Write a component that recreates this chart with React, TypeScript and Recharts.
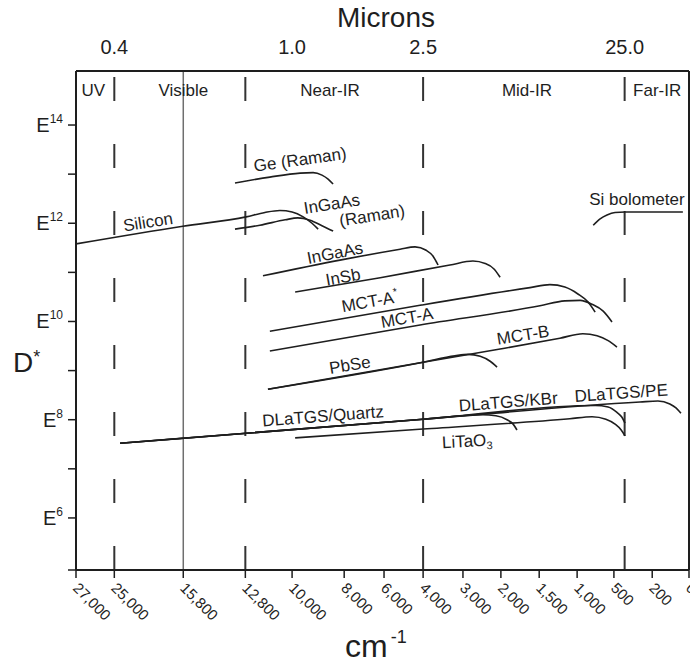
import React from "react";
import { LineChart, Line, XAxis, YAxis, ReferenceLine, ReferenceDot } from "recharts";

const FONT = '"Liberation Sans", Arial, Helvetica, sans-serif';
const INK = "#1e1e1e";

// bottom axis: wavenumber labels and where each one sits along the printed (non-linear) axis
const wavenumberLabels = [
  "27,000", "25,000", "15,800", "12,800", "10,000", "8,000", "6,000", "4,000",
  "3,000", "2,000", "1,500", "1,000", "500", "200", "0",
];
const wavenumberPos = [0, 1, 2.8, 4.42, 5.64, 7.0, 8.04, 9.06, 10.1, 11.09, 12.09, 13.08, 14.04, 15.04, 16];

// top axis (microns)
const micronLabels = ["0.4", "1.0", "2.5", "25.0"];
const micronPos = [1, 5.64, 9.06, 14.32];

// log10(D*) ticks
const decadeTicks = [4.94, 6, 7, 8, 9, 10, 11, 12, 13, 14];

const regionNames = ["UV", "Visible", "Near-IR", "Mid-IR", "Far-IR"];
const regionLabelPos = [0.45, 2.8, 6.63, 11.77, 15.17];
const regionBounds = [1, 4.42, 9.06, 14.32];
const visibleLinePos = 2.8;

// detector curves: x = axis position, d = log10(D*)
const silicon = [
  { x: 0, d: 11.58 }, { x: 2.79, d: 11.94 }, { x: 4.44, d: 12.13 }, { x: 4.93, d: 12.22 },
  { x: 5.32, d: 12.26 }, { x: 5.64, d: 12.23 }, { x: 5.93, d: 12.13 }, { x: 6.16, d: 12.0 }, { x: 6.32, d: 11.88 },
];
const geRaman = [
  { x: 4.15, d: 12.82 }, { x: 5.06, d: 12.94 }, { x: 5.85, d: 13.02 }, { x: 6.19, d: 13.03 },
  { x: 6.42, d: 12.98 }, { x: 6.58, d: 12.9 }, { x: 6.71, d: 12.8 },
];
const ingaasRaman = [
  { x: 4.15, d: 11.88 }, { x: 4.8, d: 11.96 }, { x: 5.46, d: 12.07 }, { x: 5.79, d: 12.11 },
  { x: 6.11, d: 12.06 }, { x: 6.42, d: 11.95 }, { x: 6.71, d: 11.84 },
];
const ingaas = [
  { x: 4.88, d: 10.93 }, { x: 6.89, d: 11.25 }, { x: 8.46, d: 11.47 }, { x: 8.85, d: 11.52 },
  { x: 9.14, d: 11.45 }, { x: 9.32, d: 11.33 }, { x: 9.45, d: 11.15 },
];
const insb = [
  { x: 5.72, d: 10.6 }, { x: 7.94, d: 10.89 }, { x: 9.76, d: 11.15 }, { x: 10.36, d: 11.23 },
  { x: 10.68, d: 11.18 }, { x: 10.91, d: 11.07 }, { x: 11.07, d: 10.9 },
];
const mctAStar = [
  { x: 5.06, d: 9.8 }, { x: 8.98, d: 10.33 }, { x: 11.85, d: 10.69 }, { x: 12.37, d: 10.75 },
  { x: 12.76, d: 10.7 }, { x: 13.1, d: 10.56 }, { x: 13.36, d: 10.4 }, { x: 13.55, d: 10.19 },
];
const mctA = [
  { x: 5.06, d: 9.4 }, { x: 8.98, d: 9.93 }, { x: 12.11, d: 10.32 }, { x: 12.76, d: 10.42 },
  { x: 13.16, d: 10.43 }, { x: 13.47, d: 10.35 }, { x: 13.76, d: 10.21 }, { x: 13.99, d: 9.99 },
];
const pbse = [
  { x: 5.01, d: 8.62 }, { x: 9.06, d: 9.17 }, { x: 9.89, d: 9.3 }, { x: 10.23, d: 9.33 },
  { x: 10.55, d: 9.29 }, { x: 10.81, d: 9.19 }, { x: 10.99, d: 9.07 },
];
const mctB = [
  { x: 5.01, d: 8.62 }, { x: 9.06, d: 9.17 }, { x: 11.07, d: 9.44 }, { x: 12.63, d: 9.66 },
  { x: 13.23, d: 9.75 }, { x: 13.6, d: 9.71 }, { x: 13.89, d: 9.61 }, { x: 14.12, d: 9.48 },
];
const dlatgsQuartz = [
  { x: 1.15, d: 7.52 }, { x: 9.06, d: 8.01 }, { x: 10.6, d: 8.1 }, { x: 10.96, d: 8.08 },
  { x: 11.25, d: 8.0 }, { x: 11.41, d: 7.91 }, { x: 11.51, d: 7.79 },
];
const dlatgsKBr = [
  { x: 1.15, d: 7.52 }, { x: 9.06, d: 8.01 }, { x: 13.55, d: 8.29 }, { x: 13.89, d: 8.26 },
  { x: 14.12, d: 8.15 }, { x: 14.25, d: 8.05 }, { x: 14.33, d: 7.93 },
];
const dlatgsPE = [
  { x: 1.15, d: 7.52 }, { x: 9.06, d: 8.01 }, { x: 14.72, d: 8.36 }, { x: 15.19, d: 8.38 },
  { x: 15.5, d: 8.32 }, { x: 15.66, d: 8.24 }, { x: 15.79, d: 8.13 },
];
const litao3 = [
  { x: 5.72, d: 7.63 }, { x: 9.06, d: 7.81 }, { x: 12.89, d: 8.02 }, { x: 13.47, d: 8.06 },
  { x: 13.83, d: 8.01 }, { x: 14.07, d: 7.91 }, { x: 14.23, d: 7.79 }, { x: 14.33, d: 7.67 },
];
const siBolometer = [
  { x: 13.5, d: 11.96 }, { x: 13.68, d: 12.09 }, { x: 13.86, d: 12.17 }, { x: 14.07, d: 12.22 },
  { x: 14.33, d: 12.23 }, { x: 15.84, d: 12.23 },
];

const curves = [
  silicon, geRaman, ingaasRaman, ingaas, insb, mctAStar, mctA, pbse, mctB,
  dlatgsQuartz, dlatgsKBr, dlatgsPE, litao3, siBolometer,
];

type CurveLabel = { text: string; x: number; d: number; rot: number; sup?: string; sub?: string };

const curveLabels: CurveLabel[] = [
  { text: "Ge (Raman)", x: 5.85, d: 13.29, rot: -8 },
  { text: "Silicon", x: 1.88, d: 12.02, rot: -9 },
  { text: "InGaAs", x: 6.68, d: 12.39, rot: -9 },
  { text: "(Raman)", x: 7.73, d: 12.15, rot: -9 },
  { text: "InGaAs", x: 6.76, d: 11.39, rot: -11 },
  { text: "InSb", x: 6.97, d: 10.9, rot: -10 },
  { text: "MCT-A", sup: "*", x: 7.67, d: 10.4, rot: -10 },
  { text: "MCT-A", x: 8.64, d: 10.07, rot: -10 },
  { text: "MCT-B", x: 11.67, d: 9.72, rot: -9 },
  { text: "PbSe", x: 7.15, d: 9.11, rot: -9 },
  { text: "DLaTGS/Quartz", x: 6.45, d: 8.07, rot: -4.5 },
  { text: "DLaTGS/KBr", x: 11.28, d: 8.36, rot: -4.5 },
  { text: "DLaTGS/PE", x: 14.23, d: 8.54, rot: -4 },
  { text: "LiTaO", sub: "3", x: 10.21, d: 7.56, rot: -3 },
  { text: "Si bolometer", x: 14.64, d: 12.49, rot: 0 },
];

const Y_MIN = 4.94;
const Y_MAX = 15.1;
const REGION_Y = 14.71;

// anchors the micron axis so it gets a domain (drawn with no stroke)
const micronAnchor = micronPos.map((x) => ({ x, d: Y_MIN }));

function labelShape(l: CurveLabel, size = 17) {
  return (p: any) => (
    <text
      x={p.cx}
      y={p.cy}
      transform={`rotate(${l.rot} ${p.cx} ${p.cy})`}
      textAnchor="middle"
      dominantBaseline="central"
      fontFamily={FONT}
      fontSize={size}
      fill={INK}
    >
      {l.text}
      {l.sup && (
        <tspan dy={-6} fontSize={11}>
          {l.sup}
        </tspan>
      )}
      {l.sub && (
        <tspan dy={5} fontSize={11}>
          {l.sub}
        </tspan>
      )}
    </text>
  );
}

function WavenumberTick(props: any) {
  const { x, y, payload, index } = props;
  let i = wavenumberPos.findIndex((v) => Math.abs(v - payload.value) < 1e-6);
  if (i < 0) i = index;
  const tx = x - 4;
  const ty = y + 9;
  return (
    <text
      x={tx}
      y={ty}
      transform={`rotate(45 ${tx} ${ty})`}
      textAnchor="start"
      fontFamily={FONT}
      fontSize={15}
      fill={INK}
    >
      {wavenumberLabels[i]}
    </text>
  );
}

function MicronTick(props: any) {
  const { x, payload, index } = props;
  let i = micronPos.findIndex((v) => Math.abs(v - payload.value) < 1e-6);
  if (i < 0) i = index;
  return (
    <text x={x} y={54} textAnchor="middle" fontFamily={FONT} fontSize={20} fill={INK}>
      {micronLabels[i]}
    </text>
  );
}

function DecadeTick(props: any) {
  const { x, y, payload } = props;
  const v = Math.round(payload.value * 100) / 100;
  if (v % 2 !== 0) return <g />;
  return (
    <text x={x - 3} y={y + 7} textAnchor="end" fontFamily={FONT} fontSize={20} fill={INK}>
      E
      <tspan dy={-9} fontSize={12}>
        {v}
      </tspan>
    </text>
  );
}

export default function App() {
  return (
    <div style={{ position: "absolute", left: 0, top: 0, width: 690, height: 664, background: "#fff" }}>
      <LineChart width={690} height={664} margin={{ top: 0, right: 1, bottom: 0, left: 0 }}>
        <XAxis
          type="number"
          dataKey="x"
          domain={[0, 16]}
          allowDataOverflow
          ticks={wavenumberPos}
          interval={0}
          height={94}
          tickSize={8}
          tickMargin={2}
          tick={<WavenumberTick />}
          axisLine={{ stroke: INK, strokeWidth: 2 }}
          tickLine={{ stroke: INK, strokeWidth: 1.5 }}
        />
        <XAxis
          xAxisId="top"
          orientation="top"
          type="number"
          dataKey="x"
          domain={[0, 16]}
          allowDataOverflow
          ticks={micronPos}
          interval={0}
          height={71}
          tickSize={0}
          tickMargin={0}
          tickLine={false}
          tick={<MicronTick />}
          axisLine={{ stroke: INK, strokeWidth: 2 }}
        />
        <YAxis
          type="number"
          dataKey="d"
          domain={[Y_MIN, Y_MAX]}
          allowDataOverflow
          ticks={decadeTicks}
          interval={0}
          width={76}
          tickSize={8}
          tickMargin={2}
          tick={<DecadeTick />}
          axisLine={{ stroke: INK, strokeWidth: 2 }}
          tickLine={{ stroke: INK, strokeWidth: 1.5 }}
        />

        <ReferenceLine x={16} stroke={INK} strokeWidth={2} />
        <ReferenceLine x={visibleLinePos} stroke="#6f6f6f" strokeWidth={1.5} />
        {regionBounds.map((b) => (
          <ReferenceLine
            key={`rb-${b}`}
            segment={[{ x: b, y: Y_MAX }, { x: b, y: Y_MIN }]}
            stroke="#333"
            strokeWidth={2}
            strokeDasharray="24 43"
            strokeDashoffset={61}
          />
        ))}

        <Line
          xAxisId="top"
          data={micronAnchor}
          dataKey="d"
          stroke="none"
          dot={false}
          activeDot={false}
          isAnimationActive={false}
        />
        {curves.map((c, i) => (
          <Line
            key={`c-${i}`}
            data={c}
            dataKey="d"
            type="monotone"
            stroke={INK}
            strokeWidth={1.6}
            dot={false}
            activeDot={false}
            isAnimationActive={false}
          />
        ))}

        {regionNames.map((n, i) => (
          <ReferenceDot
            key={`rn-${n}`}
            x={regionLabelPos[i]}
            y={REGION_Y}
            r={1}
            shape={labelShape({ text: n, x: regionLabelPos[i], d: REGION_Y, rot: 0 }, 17)}
          />
        ))}
        {curveLabels.map((l, i) => (
          <ReferenceDot key={`cl-${i}`} x={l.x} y={l.d} r={1} shape={labelShape(l)} />
        ))}
      </LineChart>

      <div
        style={{
          position: "absolute",
          left: 386,
          top: 4,
          transform: "translateX(-50%)",
          fontFamily: FONT,
          fontSize: 28,
          lineHeight: 1,
          color: INK,
          whiteSpace: "nowrap",
        }}
      >
        Microns
      </div>
      <div
        style={{
          position: "absolute",
          left: 13,
          top: 349,
          fontFamily: FONT,
          fontSize: 28,
          lineHeight: 1,
          color: INK,
          whiteSpace: "nowrap",
        }}
      >
        D<span style={{ fontSize: 18, position: "relative", top: -9 }}>*</span>
      </div>
      <div
        style={{
          position: "absolute",
          left: 345,
          top: 630,
          fontFamily: FONT,
          fontSize: 32,
          lineHeight: 1,
          color: INK,
          whiteSpace: "nowrap",
        }}
      >
        cm<span style={{ fontSize: 18, position: "relative", top: -14, marginLeft: 3 }}>-1</span>
      </div>
    </div>
  );
}
